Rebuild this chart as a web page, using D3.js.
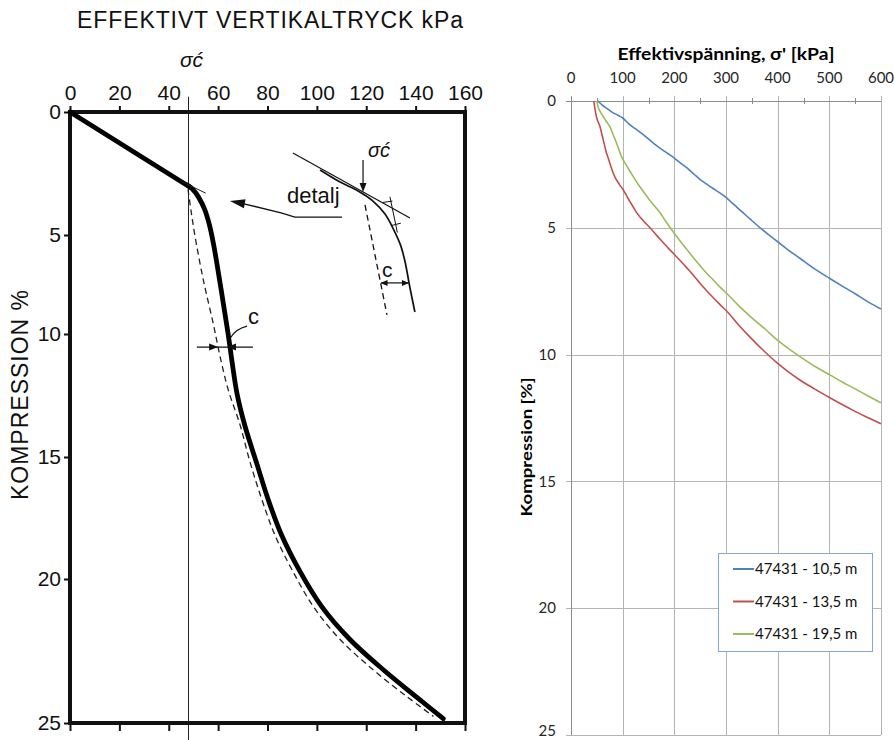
<!DOCTYPE html>
<html><head><meta charset="utf-8">
<script src="https://cdn.jsdelivr.net/npm/d3@7"></script>
<style>body{margin:0;background:#fff}svg{display:block}</style>
</head><body>
<svg id="c" width="894" height="740"></svg>
<script>
// ---------- LEFT (scanned) chart data ----------
const leftTitle = "EFFEKTIVT VERTIKALTRYCK kPa";
const leftYLabel = "KOMPRESSION %";
const leftTicksX = [0, 20, 40, 60, 80, 100, 120, 140, 160];
const leftTicksY = [0, 5, 10, 15, 20, 25];
const sigmaC = 48; // kPa
// main oedometer curve [kPa, %]: straight virgin part, then curved part
const leftStraight = [[0,0],[49.0,3.08]];
const leftCurve = [[47.5,2.97],[49.6,3.13],[52.0,3.45],[54.5,3.95],[56.5,4.6],[58.2,5.5],[60.1,6.9],[62.1,8.45],[64.0,9.95],[65.6,11.1],[67.7,12.45],[70.9,13.75],[75.6,15.25],[80.3,16.75],[85.7,18.2],[93.2,19.7],[101.9,20.95],[113.4,22.1],[126.9,23.15],[140.4,24.1],[151.2,24.85]];
// dashed (creep-corrected) curve
const leftDashed = [[47.8,3.15],[49.0,4.0],[50.6,5.03],[54.0,7.27],[58.0,9.46],[60.8,10.92],[64.1,12.27],[68.9,13.7],[72.9,15.2],[77.7,16.74],[83.0,18.2],[89.8,19.6],[98.6,20.96],[109.4,22.1],[122.9,23.16],[136.4,24.08],[147.2,24.77]];
// "detalj" inset (sketch, in kPa / % units)
const insetTangent = [[90.3,1.67],[137.7,4.31]];
const insetCurve = [[101.3,2.36],[109.4,2.85],[116.5,3.2],[122.5,3.6],[127.6,4.15],[131.2,4.8],[134.0,5.55],[135.8,6.4],[137.6,7.6],[139.7,8.89]];
const insetDashed = [[119.5,3.78],[128.4,9.04]];

// ---------- RIGHT (Excel) chart data ----------
const rightTitle = "Effektivspänning, σ' [kPa]";
const rightYLabel = "Kompression [%]";
const rightTicksX = [0, 100, 200, 300, 400, 500, 600];
const rightMinorX = [50, 150, 250, 350, 450, 550];
const rightTicksY = [0, 5, 10, 15, 20, 25];
const seriesNames = ["47431 - 10,5 m", "47431 - 13,5 m", "47431 - 19,5 m"];
const seriesColors = ["#4F81BD", "#C0504D", "#9BBB59"];
const s105 = [[52,0],[60,0.15],[70,0.3],[80,0.45],[90,0.55],[100,0.67],[112,0.9],[125,1.1],[140,1.33],[153,1.55],[165,1.75],[175,1.9],[188,2.08],[200,2.25],[212,2.45],[225,2.65],[238,2.88],[250,3.1],[262,3.27],[275,3.45],[288,3.62],[300,3.8],[315,4.08],[330,4.35],[348,4.68],[366,5.0],[383,5.28],[400,5.55],[420,5.87],[443,6.2],[470,6.6],[501,7.0],[525,7.3],[550,7.6],[575,7.92],[600,8.2]];
const s135 = [[44,0],[46,0.25],[48,0.5],[51,0.75],[56,1.0],[59,1.25],[62,1.5],[65,1.75],[68,2.0],[72,2.25],[76,2.5],[80,2.75],[85,3.0],[93,3.27],[101,3.5],[108,3.75],[115,4.0],[121,4.2],[128,4.43],[140,4.72],[153,5.0],[165,5.28],[177,5.55],[189,5.82],[201,6.07],[213,6.33],[225,6.6],[238,6.9],[250,7.2],[262,7.47],[275,7.75],[288,8.02],[302,8.3],[324,8.82],[346,9.3],[372,9.83],[399,10.33],[420,10.67],[443,11.0],[472,11.36],[501,11.7],[523,11.95],[546,12.2],[573,12.47],[600,12.73]];
const s195 = [[50,0],[52,0.2],[56,0.4],[62,0.6],[68,0.8],[75,1.0],[81,1.3],[87,1.6],[93,1.93],[99,2.25],[107,2.53],[115,2.8],[124,3.1],[134,3.4],[143,3.65],[152,3.9],[162,4.15],[172,4.4],[182,4.7],[192,5.0],[206,5.38],[220,5.75],[235,6.13],[250,6.5],[262,6.78],[275,7.05],[288,7.33],[302,7.6],[326,8.1],[350,8.55],[375,8.98],[399,9.42],[425,9.82],[450,10.17],[475,10.5],[501,10.8],[525,11.08],[550,11.35],[575,11.63],[600,11.9]];
const seriesData = [s105, s135, s195];

const svg = d3.select("#c");
const LF = "'Liberation Sans', Arial, Helvetica, sans-serif";
const RF = "Lato, 'Open Sans', sans-serif";

function arrowHead(g, tx, ty, dx, dy, len, hw) {
  const n = Math.hypot(dx, dy); dx /= n; dy /= n;
  const bx = tx - dx * len, by = ty - dy * len;
  const px = -dy * hw, py = dx * hw;
  g.append("path").attr("d", `M${tx},${ty}L${bx + px},${by + py}L${bx - px},${by - py}Z`).attr("fill", "#111");
}

// ================= LEFT =================
const xL = d3.scaleLinear().domain([0, 160]).range([70, 465]);
const yL = d3.scaleLinear().domain([0, 5, 10, 15, 20, 25]).range([112, 235, 334, 457, 579, 723]);
const gl = svg.append("g");

gl.append("text").attr("x", 270).attr("y", 28).attr("text-anchor", "middle")
  .attr("font-family", LF).attr("font-size", 23).attr("fill", "#111")
  .attr("textLength", 386).attr("lengthAdjust", "spacing").text(leftTitle);

gl.append("text").attr("transform", "translate(28,395) rotate(-90)").attr("text-anchor", "middle")
  .attr("font-family", LF).attr("font-size", 23).attr("fill", "#111")
  .attr("textLength", 210).attr("lengthAdjust", "spacing").text(leftYLabel);

// sigma c' vertical line
gl.append("line").attr("x1", xL(sigmaC)).attr("x2", xL(sigmaC)).attr("y1", yL(-0.62)).attr("y2", yL(25.7))
  .attr("stroke", "#222").attr("stroke-width", 1);
gl.append("text").attr("x", xL(sigmaC) + 3).attr("y", 67).attr("text-anchor", "middle")
  .attr("font-family", LF).attr("font-style", "italic").attr("font-size", 21).attr("fill", "#111").text("σć");

// axes
const axT = d3.axisTop(xL).tickValues(leftTicksX).tickSize(6).tickPadding(6);
const gT = gl.append("g").attr("transform", `translate(0,${yL(0)})`).call(axT);
const axB = d3.axisBottom(xL).tickValues(leftTicksX).tickSize(8).tickFormat("");
const gB = gl.append("g").attr("transform", `translate(0,${yL(25)})`).call(axB);
const axLft = d3.axisLeft(yL).tickValues(leftTicksY).tickSize(6).tickPadding(3);
const gLf = gl.append("g").attr("transform", `translate(${xL(0)},0)`).call(axLft);
[gT, gB, gLf].forEach(g => {
  g.select(".domain").remove();
  g.selectAll(".tick line").attr("stroke", "#111").attr("stroke-width", 2);
  g.selectAll(".tick text").attr("font-family", LF).attr("font-size", 21).attr("fill", "#111");
});
gT.selectAll(".tick text").attr("dy", "0");

// frame
gl.append("rect").attr("x", xL(0)).attr("y", yL(0)).attr("width", xL(160) - xL(0)).attr("height", yL(25) - yL(0))
  .attr("fill", "none").attr("stroke", "#111").attr("stroke-width", 4);

const lineS = d3.line().x(d => xL(d[0])).y(d => yL(d[1]));
const lineL = d3.line().x(d => xL(d[0])).y(d => yL(d[1])).curve(d3.curveCatmullRom.alpha(0.5));
gl.append("path").attr("d", lineL(leftDashed)).attr("fill", "none").attr("stroke", "#222")
  .attr("stroke-width", 1.3).attr("stroke-dasharray", "6,4");
gl.append("path").attr("d", lineS(leftStraight)).attr("fill", "none").attr("stroke", "#000")
  .attr("stroke-width", 4.8).attr("stroke-linecap", "round");
gl.append("path").attr("d", lineL(leftCurve)).attr("fill", "none").attr("stroke", "#000")
  .attr("stroke-width", 4.8).attr("stroke-linejoin", "round").attr("stroke-linecap", "round");

// knee tangent mark
gl.append("line").attr("x1", xL(44.6)).attr("y1", yL(2.8)).attr("x2", xL(55)).attr("y2", yL(3.3))
  .attr("stroke", "#222").attr("stroke-width", 1);

// c marker at ~10.5 %
const cy = yL(10.53);
gl.append("line").attr("x1", xL(51.4)).attr("x2", xL(74.1)).attr("y1", cy).attr("y2", cy).attr("stroke", "#111").attr("stroke-width", 1.2);
arrowHead(gl, xL(60.0), cy, 1, 0, 9, 3.5);
arrowHead(gl, xL(63.6), cy, -1, 0, 9, 3.5);
gl.append("path").attr("d", `M${xL(71.7)},${yL(9.6)}Q${xL(67)},${yL(9.75)} ${xL(65.0)},${yL(10.15)}`)
  .attr("fill", "none").attr("stroke", "#111").attr("stroke-width", 1.2);
gl.append("text").attr("x", xL(72.1)).attr("y", yL(9.51)).attr("font-family", LF).attr("font-size", 22).attr("fill", "#111").text("c");

// detalj label + arrow
gl.append("text").attr("x", xL(87.9)).attr("y", yL(3.7)).attr("font-family", LF).attr("font-size", 22).attr("fill", "#111").text("detalj");
gl.append("path").attr("d", `M${xL(110.2)},${yL(4.27)}L${xL(91.1)},${yL(4.27)}L${xL(85.5)},${yL(4.1)}L${xL(70)},${yL(3.72)}`)
  .attr("fill", "none").attr("stroke", "#111").attr("stroke-width", 1.3);
arrowHead(gl, xL(64.8), yL(3.62), -1, -0.18, 15, 4.5);

// inset sketch
gl.append("path").attr("d", lineS(insetTangent)).attr("fill", "none").attr("stroke", "#111").attr("stroke-width", 1.2);
gl.append("path").attr("d", lineL(insetCurve)).attr("fill", "none").attr("stroke", "#111").attr("stroke-width", 1.7);
gl.append("path").attr("d", lineS(insetDashed)).attr("fill", "none").attr("stroke", "#111").attr("stroke-width", 1.3).attr("stroke-dasharray", "6,4");
gl.append("line").attr("x1", xL(118.7)).attr("x2", xL(118.7)).attr("y1", yL(1.95)).attr("y2", yL(2.9)).attr("stroke", "#111").attr("stroke-width", 1.2);
arrowHead(gl, xL(118.7), yL(3.25), 0, 1, 9, 3.5);
gl.append("text").attr("x", xL(120.7)).attr("y", yL(1.83)).attr("font-family", LF).attr("font-style", "italic").attr("font-size", 20).attr("fill", "#111").text("σć");
gl.append("line").attr("x1", xL(129.6)).attr("y1", yL(3.45)).attr("x2", xL(132.6)).attr("y2", yL(4.9)).attr("stroke", "#111").attr("stroke-width", 1);
gl.append("line").attr("x1", xL(126.5)).attr("y1", yL(3.68)).attr("x2", xL(130.6)).attr("y2", yL(3.62)).attr("stroke", "#111").attr("stroke-width", 1);
gl.append("line").attr("x1", xL(130)).attr("y1", yL(4.62)).attr("x2", xL(134)).attr("y2", yL(4.52)).attr("stroke", "#111").attr("stroke-width", 1);
const iy = yL(7.42);
gl.append("line").attr("x1", xL(126)).attr("x2", xL(137.2)).attr("y1", iy).attr("y2", iy).attr("stroke", "#111").attr("stroke-width", 1.2);
arrowHead(gl, xL(125.8), iy, -1, 0, 7, 3);
arrowHead(gl, xL(137.3), iy, 1, 0, 7, 3);
gl.append("text").attr("x", xL(126.4)).attr("y", yL(7.12)).attr("font-family", LF).attr("font-size", 21).attr("fill", "#111").text("c");

// ================= RIGHT =================
const xR = d3.scaleLinear().domain([0, 600]).range([571, 881]);
const yR = d3.scaleLinear().domain([0, 25]).range([101, 735]);
const gr = svg.append("g");
const grid = "#B4B4B4", axc = "#8C8C8C";

gr.selectAll("line.vg").data(rightTicksX.slice(1)).enter().append("line")
  .attr("x1", d => Math.round(xR(d)) + 0.5).attr("x2", d => Math.round(xR(d)) + 0.5)
  .attr("y1", yR(0) - 5).attr("y2", yR(25)).attr("stroke", grid).attr("stroke-width", 1);
gr.selectAll("line.hg").data(rightTicksY.slice(1)).enter().append("line")
  .attr("y1", d => Math.round(yR(d)) + 0.5).attr("y2", d => Math.round(yR(d)) + 0.5)
  .attr("x1", xR(0) - 5).attr("x2", xR(600)).attr("stroke", grid).attr("stroke-width", 1);
// axis lines
gr.append("line").attr("x1", xR(0) - 5).attr("x2", xR(600)).attr("y1", Math.round(yR(0)) + 0.5).attr("y2", Math.round(yR(0)) + 0.5).attr("stroke", axc);
gr.append("line").attr("x1", Math.round(xR(0)) + 0.5).attr("x2", Math.round(xR(0)) + 0.5).attr("y1", yR(0) - 5).attr("y2", yR(25)).attr("stroke", axc);
gr.selectAll("line.mn").data(rightMinorX).enter().append("line")
  .attr("x1", d => Math.round(xR(d)) + 0.5).attr("x2", d => Math.round(xR(d)) + 0.5)
  .attr("y1", yR(0) - 3).attr("y2", yR(0) + 3).attr("stroke", axc);

gr.selectAll("text.tx").data(rightTicksX).enter().append("text")
  .attr("x", d => xR(d)).attr("y", 83).attr("text-anchor", "middle")
  .attr("font-family", RF).attr("font-size", 15).attr("fill", "#262626").text(d => d);
gr.selectAll("text.ty").data(rightTicksY).enter().append("text")
  .attr("x", 556).attr("y", d => Math.min(yR(d), 731)).attr("dy", "0.35em").attr("text-anchor", "end")
  .attr("font-family", RF).attr("font-size", 15).attr("fill", "#262626").text(d => d);

gr.append("text").attr("x", 726).attr("y", 60).attr("text-anchor", "middle")
  .attr("font-family", RF).attr("font-weight", "bold").attr("font-size", 17).attr("fill", "#000")
  .attr("textLength", 217).attr("lengthAdjust", "spacingAndGlyphs").text(rightTitle);
gr.append("text").attr("transform", "translate(532,447) rotate(-90)").attr("text-anchor", "middle")
  .attr("font-family", RF).attr("font-weight", "bold").attr("font-size", 16).attr("fill", "#000")
  .attr("textLength", 139).attr("lengthAdjust", "spacingAndGlyphs").text(rightYLabel);

const lineR = d3.line().x(d => xR(d[0])).y(d => yR(d[1])).curve(d3.curveMonotoneX);
seriesData.forEach((s, i) => {
  gr.append("path").attr("d", lineR(s)).attr("fill", "none").attr("stroke", seriesColors[i])
    .attr("stroke-width", 1.6).attr("stroke-linejoin", "round");
});

// legend
const lg = gr.append("g");
lg.append("rect").attr("x", 718.5).attr("y", 553.5).attr("width", 154).attr("height", 98)
  .attr("fill", "#fff").attr("stroke", "#86A6D6").attr("stroke-width", 1);
seriesNames.forEach((n, i) => {
  const yy = 569 + i * 32.5;
  lg.append("line").attr("x1", 733).attr("x2", 754).attr("y1", yy).attr("y2", yy).attr("stroke", seriesColors[i]).attr("stroke-width", 2);
  lg.append("text").attr("x", 755).attr("y", yy).attr("dy", "0.35em").attr("font-family", RF).attr("font-size", 15).attr("fill", "#111").text(n);
});
</script>
</body></html>
